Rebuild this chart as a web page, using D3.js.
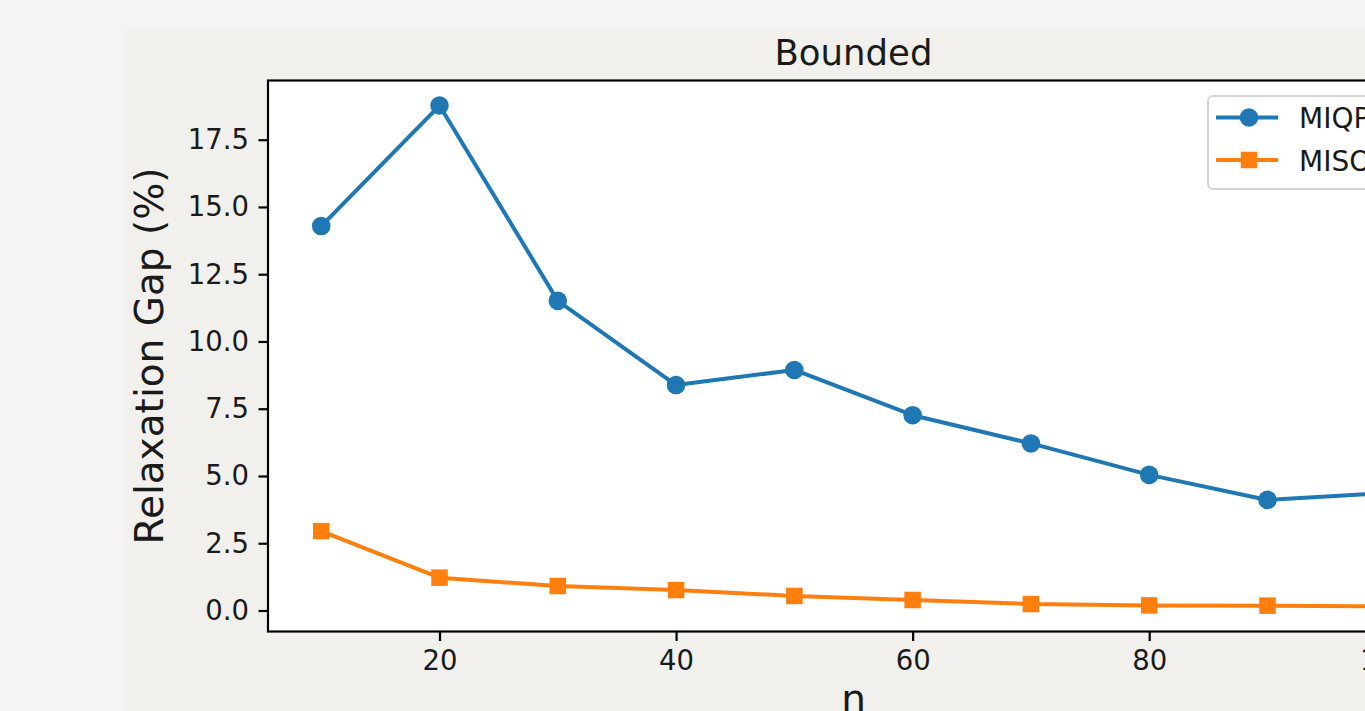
<!DOCTYPE html>
<html>
<head>
<meta charset="utf-8">
<script src="https://cdn.jsdelivr.net/npm/d3@7"></script>
<style>
  html, body { margin: 0; padding: 0; background: #f5f4f2; overflow: hidden; }
  svg { display: block; }
  text { font-family: "DejaVu Sans", sans-serif; fill: #1a1a1a; }
</style>
</head>
<body>
<svg id="chart" width="1365" height="711"></svg>
<script>
// Problem sizes and relaxation gaps for each formulation
const sizes = [10, 20, 30, 40, 50, 60, 70, 80, 90, 100];
const miqpGap = [14.29, 18.77, 11.51, 8.38, 8.94, 7.26, 6.21, 5.04, 4.11, 4.37];
const misocpGap = [2.95, 1.22, 0.91, 0.76, 0.54, 0.39, 0.24, 0.19, 0.18, 0.15];
const seriesNames = ["MIQP", "MISOCP"];
const seriesColors = ["#1f77b4", "#ff7f0e"];
const yTickValues = [0, 2.5, 5, 7.5, 10, 12.5, 15, 17.5];
const xTickValues = [20, 40, 60, 80, 100];
const titleText = "Bounded";
const xLabelText = "n";
const yLabelText = "Relaxation Gap (%)";

const svg = d3.select("#chart");

// figure panel
const fig = { x: 124, y: 30, w: 1700, h: 800 };
svg.append("rect")
  .attr("x", fig.x).attr("y", fig.y)
  .attr("width", fig.w).attr("height", fig.h)
  .attr("fill", "#f1f0ec");

// axes box
const ax = { left: 268, top: 80.5, right: 1439, bottom: 631.5 };

// 5% padding around data range on both axes
const xMin = d3.min(sizes), xMax = d3.max(sizes);
const xPad = (xMax - xMin) * 0.05;
const allY = miqpGap.concat(misocpGap);
const yMin = d3.min(allY), yMax = d3.max(allY);
const yPad = (yMax - yMin) * 0.05;

const x = d3.scaleLinear().domain([xMin - xPad, xMax + xPad]).range([ax.left, ax.right]);
const y = d3.scaleLinear().domain([yMin - yPad, yMax + yPad]).range([ax.bottom, ax.top]);

svg.append("rect")
  .attr("x", ax.left).attr("y", ax.top)
  .attr("width", ax.right - ax.left).attr("height", ax.bottom - ax.top)
  .attr("fill", "#ffffff");

const tickFont = 27.5;
const tickLen = 9.5;
const tickPad = 9.5;

// x axis
const xAxis = d3.axisBottom(x)
  .tickValues(xTickValues)
  .tickFormat(d3.format("d"))
  .tickSizeInner(tickLen).tickSizeOuter(0).tickPadding(tickPad);
const gx = svg.append("g").attr("transform", `translate(0,${ax.bottom})`).call(xAxis);
gx.select(".domain").remove();
gx.selectAll(".tick line").attr("stroke", "#000").attr("stroke-width", 2.2);
gx.selectAll(".tick text")
  .attr("font-size", tickFont).attr("fill", "#1a1a1a")
  .attr("font-family", "DejaVu Sans, sans-serif");

// y axis
const yAxis = d3.axisLeft(y)
  .tickValues(yTickValues)
  .tickFormat(d3.format(".1f"))
  .tickSizeInner(tickLen).tickSizeOuter(0).tickPadding(tickPad);
const gy = svg.append("g").attr("transform", `translate(${ax.left},0)`).call(yAxis);
gy.select(".domain").remove();
gy.selectAll(".tick line").attr("stroke", "#000").attr("stroke-width", 2.2);
gy.selectAll(".tick text")
  .attr("font-size", tickFont).attr("fill", "#1a1a1a")
  .attr("font-family", "DejaVu Sans, sans-serif");

// series
const series = [
  { name: seriesNames[0], values: miqpGap, color: seriesColors[0], shape: "circle" },
  { name: seriesNames[1], values: misocpGap, color: seriesColors[1], shape: "square" }
];

const plot = svg.append("g");
const line = d3.line().x((d, i) => x(sizes[i])).y(d => y(d));
const circleR = 9.3;
const squareSide = 16.5;

series.forEach(s => {
  plot.append("path")
    .datum(s.values)
    .attr("d", line)
    .attr("fill", "none")
    .attr("stroke", s.color)
    .attr("stroke-width", 4)
    .attr("stroke-linejoin", "round")
    .attr("stroke-linecap", "square");
  if (s.shape === "circle") {
    plot.selectAll(null).data(s.values).enter().append("circle")
      .attr("cx", (d, i) => x(sizes[i]))
      .attr("cy", d => y(d))
      .attr("r", circleR)
      .attr("fill", s.color);
  } else {
    plot.selectAll(null).data(s.values).enter().append("rect")
      .attr("x", (d, i) => x(sizes[i]) - squareSide / 2)
      .attr("y", d => y(d) - squareSide / 2)
      .attr("width", squareSide).attr("height", squareSide)
      .attr("fill", s.color);
  }
});

// spines
svg.append("rect")
  .attr("x", ax.left).attr("y", ax.top)
  .attr("width", ax.right - ax.left).attr("height", ax.bottom - ax.top)
  .attr("fill", "none").attr("stroke", "#000").attr("stroke-width", 2.2);

// legend
const lg = svg.append("g").attr("transform", "translate(1208,96)");
lg.append("rect")
  .attr("x", 0).attr("y", 0).attr("width", 260).attr("height", 93)
  .attr("rx", 5).attr("ry", 5)
  .attr("fill", "#ffffff").attr("fill-opacity", 0.8)
  .attr("stroke", "#d4d4d4").attr("stroke-width", 2);
series.forEach((s, i) => {
  const cy = 21.5 + i * 42.5;
  lg.append("line")
    .attr("x1", 8).attr("x2", 70).attr("y1", cy).attr("y2", cy)
    .attr("stroke", s.color).attr("stroke-width", 4);
  if (s.shape === "circle") {
    lg.append("circle").attr("cx", 41).attr("cy", cy).attr("r", circleR).attr("fill", s.color);
  } else {
    lg.append("rect")
      .attr("x", 41 - squareSide / 2).attr("y", cy - squareSide / 2)
      .attr("width", squareSide).attr("height", squareSide).attr("fill", s.color);
  }
  lg.append("text")
    .attr("x", 91).attr("y", cy + 10.5)
    .attr("font-size", 28)
    .text(s.name);
});

// title and axis labels
const cx = (ax.left + ax.right) / 2;
svg.append("text")
  .attr("x", cx).attr("y", 65)
  .attr("text-anchor", "middle")
  .attr("font-size", 35.5)
  .text(titleText);

svg.append("text")
  .attr("x", cx).attr("y", 712)
  .attr("text-anchor", "middle")
  .attr("font-size", 39)
  .text(xLabelText);

svg.append("text")
  .attr("transform", `translate(163,${(ax.top + ax.bottom) / 2}) rotate(-90)`)
  .attr("text-anchor", "middle")
  .attr("font-size", 39)
  .text(yLabelText);
</script>
</body>
</html>
